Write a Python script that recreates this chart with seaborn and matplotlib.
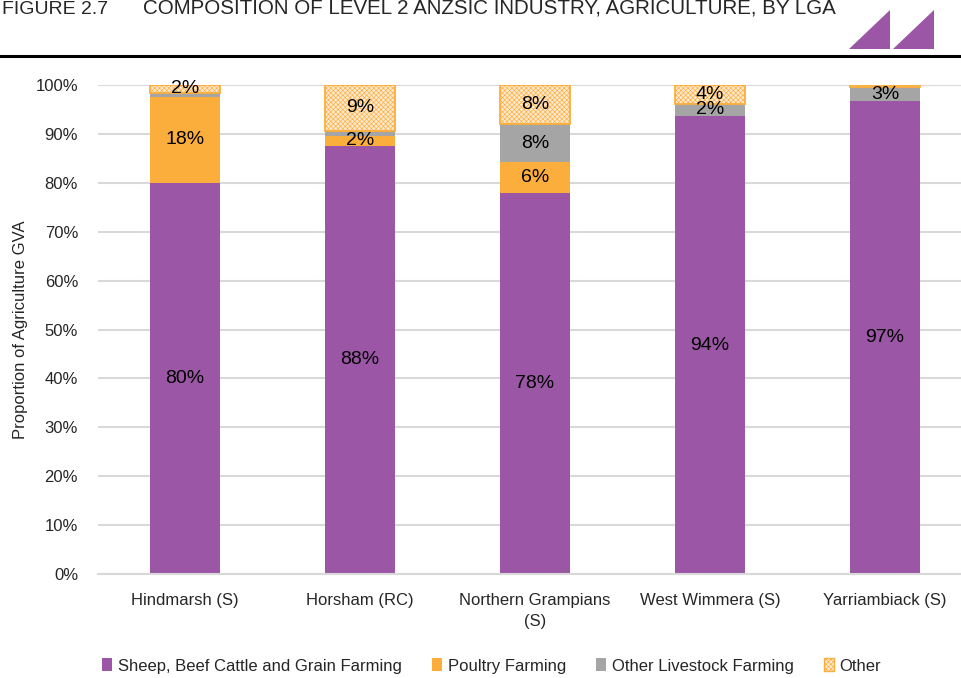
import numpy as np
import pandas as pd
import matplotlib
matplotlib.use("Agg")
import matplotlib.pyplot as plt
from matplotlib.patches import Patch, Polygon
import seaborn as sns

# ---- data ----
categories = ["Hindmarsh (S)", "Horsham (RC)", "Northern Grampians\n(S)",
              "West Wimmera (S)", "Yarriambiack (S)"]
series_names = ["Sheep, Beef Cattle and Grain Farming", "Poultry Farming",
                "Other Livestock Farming", "Other"]
sheep = [80.0, 87.6, 78.0, 93.6, 96.8]
poultry = [17.6, 2.0, 6.2, 0.1, 0.0]
livestock = [0.8, 1.0, 7.8, 2.4, 2.7]
other = [1.6, 9.4, 8.0, 3.9, 0.5]
y_ticks = [0, 10, 20, 30, 40, 50, 60, 70, 80, 90, 100]

sns.set_theme(style="white")
plt.rcParams["font.family"] = ["Liberation Sans", "DejaVu Sans"]
plt.rcParams["hatch.linewidth"] = 0.45

purple = "#9B57A5"
orange = "#FBAE3C"
grey = "#A5A5A5"
other_face = "#FEE9CF"

W, H = 961, 678
fig = plt.figure(figsize=(W / 100, H / 100), dpi=100)
ax = fig.add_axes([97.5 / W, 1 - 574 / H, 875 / W, 489 / H])

series = [sheep, poultry, livestock, other]
styles = [dict(color=purple, edgecolor="none", linewidth=0),
          dict(color=orange, edgecolor="none", linewidth=0),
          dict(color=grey, edgecolor="none", linewidth=0),
          dict(color=other_face, edgecolor=orange, hatch="xxxxxxx", linewidth=1.3)]

bottom = np.zeros(len(categories))
for name, vals, st in zip(series_names, series, styles):
    df = pd.DataFrame({"cat": categories, "val": vals})
    n_before = len(ax.patches)
    sns.barplot(data=df, x="cat", y="val", order=categories, width=0.4,
                bottom=bottom, ax=ax, errorbar=None, saturation=1, **st)
    new = ax.patches[n_before:]
    for p, v, b in zip(new, vals, bottom):
        if v >= 1.5:
            ax.text(p.get_x() + p.get_width() / 2, b + v / 2, f"{v:.0f}%",
                    ha="center", va="center", fontsize=14, color="black")
    bottom = bottom + np.array(vals)

ax.set_ylim(0, 100)
ax.set_xlim(-0.5, len(categories) - 0.5)
ax.set_yticks(y_ticks)
ax.set_yticklabels([f"{t}%" for t in y_ticks], fontsize=12)
ax.tick_params(axis="x", labelsize=12, length=0, pad=14)
for lbl in ax.get_xticklabels():
    lbl.set_linespacing(1.45)
ax.tick_params(axis="y", length=0, pad=14)
ax.set_xlabel("")
ax.set_ylabel("Proportion of Agriculture GVA", fontsize=12, labelpad=5)
ax.yaxis.grid(True, color="#D9D9D9", linewidth=1.5)
ax.set_axisbelow(True)
for s in ["top", "right", "left"]:
    ax.spines[s].set_visible(False)
ax.spines["bottom"].set_color("#D9D9D9")
ax.spines["bottom"].set_linewidth(1.5)

# header
fig.text(2 / W, 1 - 14 / H, "FIGURE 2.7", fontsize=14, ha="left", va="baseline")
fig.text(143 / W, 1 - 14 / H,
         "COMPOSITION OF LEVEL 2 ANZSIC INDUSTRY, AGRICULTURE, BY LGA",
         fontsize=14.8, ha="left", va="baseline")
fig.add_artist(plt.Line2D([0, 1], [1 - 56 / H, 1 - 56 / H], color="black",
                          linewidth=2.2, transform=fig.transFigure))
for x0 in (849, 893):
    tri = Polygon([[x0 / W, 1 - 49 / H], [(x0 + 41) / W, 1 - 10 / H],
                   [(x0 + 41) / W, 1 - 49 / H]], closed=True,
                  facecolor=purple, edgecolor="none", transform=fig.transFigure)
    fig.add_artist(tri)

handles = [Patch(facecolor=purple, edgecolor="none"),
           Patch(facecolor=orange, edgecolor="none"),
           Patch(facecolor=grey, edgecolor="none"),
           Patch(facecolor=other_face, edgecolor=orange, hatch="xxxxxxx")]
fig.legend(handles, series_names, loc="center", bbox_to_anchor=(491.5 / W, 1 - 666 / H),
           ncol=4, frameon=False, fontsize=12, handlelength=0.6, handleheight=0.8,
           handletextpad=0.35, columnspacing=1.8)

fig.savefig("out.png", dpi=100)
